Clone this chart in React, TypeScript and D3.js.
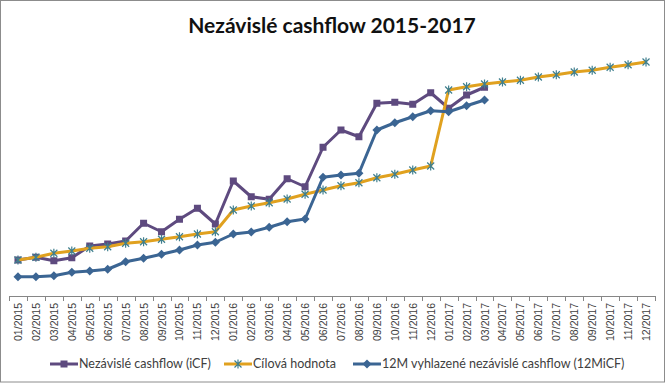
import { useEffect, useRef } from "react";
import * as d3 from "d3";

const months = [
  "01/2015", "02/2015", "03/2015", "04/2015", "05/2015", "06/2015",
  "07/2015", "08/2015", "09/2015", "10/2015", "11/2015", "12/2015",
  "01/2016", "02/2016", "03/2016", "04/2016", "05/2016", "06/2016",
  "07/2016", "08/2016", "09/2016", "10/2016", "11/2016", "12/2016",
  "01/2017", "02/2017", "03/2017", "04/2017", "05/2017", "06/2017",
  "07/2017", "08/2017", "09/2017", "10/2017", "11/2017", "12/2017",
];

// independent cashflow (iCF), available until 03/2017
const icf = [
  14.0, 15.1, 13.7, 14.9, 19.6, 20.4, 21.6, 28.7, 25.3, 30.3, 34.7, 28.4,
  45.6, 39.3, 38.3, 46.5, 43.3, 59.1, 66.0, 63.3, 76.7, 77.1, 76.3, 80.9,
  74.7, 80.0, 83.1,
];

// target value
const target = [
  14.0, 15.1, 16.7, 17.6, 18.7, 19.3, 20.7, 21.3, 22.3, 23.3, 24.4, 25.3,
  34.0, 35.6, 36.9, 38.4, 40.3, 42.0, 43.7, 44.9, 46.9, 48.3, 50.0, 51.6,
  82.0, 83.3, 84.4, 85.2, 85.9, 87.2, 88.1, 89.2, 89.9, 91.1, 92.1, 93.2,
];

// 12M smoothed independent cashflow (12MiCF)
const icf12 = [
  7.3, 7.3, 7.7, 9.1, 9.6, 10.3, 13.3, 14.7, 16.3, 18.0, 20.0, 21.1,
  24.4, 25.2, 27.1, 29.3, 30.4, 47.1, 48.0, 48.7, 66.0, 68.9, 71.3, 73.7,
  73.3, 75.7, 78.0,
];

const seriesNames = [
  "Nezávislé cashflow (iCF)",
  "Cílová hodnota",
  "12M vyhlazené nezávislé cashflow (12MiCF)",
];

const PURPLE = "#5e4a7f";
const ORANGE = "#e0a11f";
const BLUE = "#3b6593";
const TEAL = "#3f7f8e";
const FONT = "'Liberation Sans', Arial, sans-serif";

const asterisk = (s: number) =>
  `M${-s},${-s}L${s},${s}M${-s},${s}L${s},${-s}M0,${-s - 1}L0,${s + 1}`;

const App = () => {
  const ref = useRef<SVGSVGElement>(null);

  useEffect(() => {
    const width = 666;
    const height = 384;
    const svg = d3.select(ref.current);
    svg.selectAll("*").remove();

    svg
      .append("rect")
      .attr("x", 0.5)
      .attr("y", 0.5)
      .attr("width", width - 2)
      .attr("height", height - 2.5)
      .attr("fill", "#fff")
      .attr("stroke", "#8c8c8c");

    svg
      .append("text")
      .attr("x", 332)
      .attr("y", 33)
      .attr("text-anchor", "middle")
      .attr("font-family", "Lato, sans-serif")
      .attr("font-weight", "bold")
      .attr("font-size", 21)
      .attr("fill", "#111")
      .text("Nezávislé cashflow 2015-2017");

    const x = d3.scaleBand().domain(months).range([9, 655]);
    const cx = (i: number) => x(months[i])! + x.bandwidth() / 2;
    const y = d3.scaleLinear().domain([0, 100]).range([295, 45]);

    // x axis
    const axisY = 296;
    const ax = svg.append("g");
    ax.append("line")
      .attr("x1", 9)
      .attr("x2", 655)
      .attr("y1", axisY + 0.5)
      .attr("y2", axisY + 0.5)
      .attr("stroke", "#868686");
    const edges = months.map((m) => x(m)!).concat([655]);
    ax.selectAll("line.tick")
      .data(edges)
      .join("line")
      .attr("class", "tick")
      .attr("x1", (d) => Math.round(d) + 0.5)
      .attr("x2", (d) => Math.round(d) + 0.5)
      .attr("y1", axisY)
      .attr("y2", axisY + 5)
      .attr("stroke", "#868686");
    ax.selectAll("text")
      .data(months)
      .join("text")
      .attr(
        "transform",
        (d, i) => `translate(${cx(i) + 4},${axisY + 7}) rotate(-90)`
      )
      .attr("text-anchor", "end")
      .attr("font-family", FONT)
      .attr("font-size", 10.5)
      .attr("fill", "#404040")
      .text((d) => d);

    const line = d3
      .line<number>()
      .x((d, i) => cx(i))
      .y((d) => y(d));

    // iCF
    svg
      .append("path")
      .attr("d", line(icf))
      .attr("fill", "none")
      .attr("stroke", PURPLE)
      .attr("stroke-width", 3)
      .attr("stroke-linejoin", "round");
    svg
      .append("g")
      .selectAll("rect")
      .data(icf)
      .join("rect")
      .attr("x", (d, i) => cx(i) - 3.5)
      .attr("y", (d) => y(d) - 3.5)
      .attr("width", 7)
      .attr("height", 7)
      .attr("fill", PURPLE);

    // target
    svg
      .append("path")
      .attr("d", line(target))
      .attr("fill", "none")
      .attr("stroke", ORANGE)
      .attr("stroke-width", 3)
      .attr("stroke-linejoin", "round");
    svg
      .append("g")
      .selectAll("path")
      .data(target)
      .join("path")
      .attr("transform", (d, i) => `translate(${cx(i)},${y(d)})`)
      .attr("d", asterisk(3.5))
      .attr("stroke", TEAL)
      .attr("stroke-width", 1.2)
      .attr("fill", "none");

    // 12MiCF
    svg
      .append("path")
      .attr("d", line(icf12))
      .attr("fill", "none")
      .attr("stroke", BLUE)
      .attr("stroke-width", 3)
      .attr("stroke-linejoin", "round");
    svg
      .append("g")
      .selectAll("path")
      .data(icf12)
      .join("path")
      .attr("transform", (d, i) => `translate(${cx(i)},${y(d)})`)
      .attr("d", "M0,-4.5L4.5,0L0,4.5L-4.5,0Z")
      .attr("fill", BLUE);

    // legend
    const legendX = [50, 224, 353];
    const ly = 364;
    const lg = svg
      .append("g")
      .selectAll("g")
      .data(seriesNames)
      .join("g")
      .attr("transform", (d, i) => `translate(${legendX[i]},${ly})`);
    lg.append("line")
      .attr("x1", 0)
      .attr("x2", 28)
      .attr("stroke", (d, i) => [PURPLE, ORANGE, BLUE][i])
      .attr("stroke-width", 3);
    lg.filter((d, i) => i === 0)
      .append("rect")
      .attr("x", 10.5)
      .attr("y", -3.5)
      .attr("width", 7)
      .attr("height", 7)
      .attr("fill", PURPLE);
    lg.filter((d, i) => i === 1)
      .append("path")
      .attr("transform", "translate(14,0)")
      .attr("d", asterisk(3.5))
      .attr("stroke", TEAL)
      .attr("stroke-width", 1.2);
    lg.filter((d, i) => i === 2)
      .append("path")
      .attr("transform", "translate(14,0)")
      .attr("d", "M0,-4.5L4.5,0L0,4.5L-4.5,0Z")
      .attr("fill", BLUE);
    lg.append("text")
      .attr("x", 29)
      .attr("y", 4)
      .attr("font-family", "Lato, sans-serif")
      .attr("font-size", 12.5)
      .attr("fill", "#404040")
      .text((d) => d);
  }, []);

  return (
    <svg
      ref={ref}
      width="666"
      height="384"
      style={{ position: "absolute", left: 0, top: 0 }}
    />
  );
};

export default App;
